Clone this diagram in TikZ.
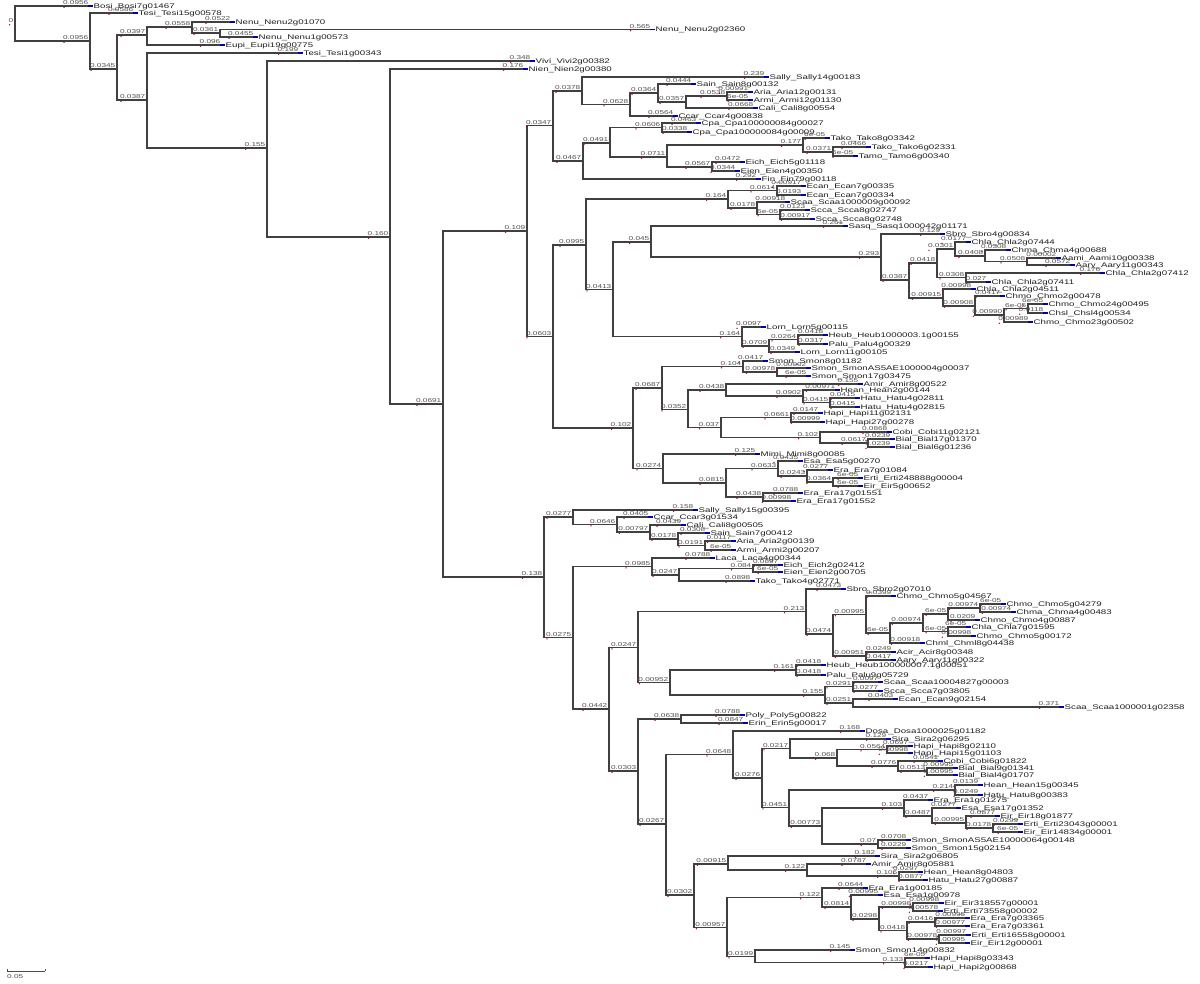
\documentclass[tikz,border=0pt]{standalone}
\usepackage{fontspec}
\newfontfamily\lff[FakeStretch=1.45]{Liberation Sans}
\tikzset{
 br/.style={draw=black!75, line width=1.15pt},
 bl/.style={anchor=base east, inner sep=0pt, xshift=-1.5pt, yshift=1.3pt, font=\lff\fontsize{5.7}{6}\selectfont, text=black!68},
 lf/.style={anchor=mid west, inner sep=0pt, xshift=3.5pt, font=\lff\fontsize{6.7}{7}\selectfont, text=black!88},
 rmk/.style={fill=red!75!black},
 bmk/.style={draw=blue!70!black, line width=1.4pt},
}
\newcommand\Br[5]{\coordinate (#2) at (#3,#4);\draw[br] (#1) |- (#2);\node[bl] (t) at (#2) {#5};\fill[rmk] ([xshift=1.2pt,yshift=-2.6pt]t.base west) circle (0.75pt);}
\newcommand\Lf[6]{\Br{#1}{#2}{#3}{#4}{#5}\draw[bmk] ([xshift=-2pt]#2) -- ++(5,0);\node[lf] at (#2) {#6};}
\begin{document}
\begin{tikzpicture}[x=1pt,y=-1pt]
\fill[white] (0,0) rectangle (1200,984);
\useasboundingbox (0,0) rectangle (1200,984);
\coordinate (r) at (15,23.5);
\node[bl] (t) at (r) {0};\fill[rmk] ([xshift=1.2pt,yshift=-2.6pt]t.base west) circle (0.75pt);
\Lf{r}{l1}{90}{6}{0.0956}{Bosi\_Bosi7g01467}
\Br{r}{n1}{90}{41}{0.0956}
\Lf{n1}{l2}{135}{13}{0.0586}{Tesi\_Tesi15g00578}
\Br{n1}{n2}{117}{69}{0.0345}
\Br{n2}{n3}{147}{35}{0.0397}
\Br{n3}{n4}{192}{27}{0.0558}
\Lf{n4}{l3}{232}{22}{0.0522}{Nenu\_Nenu2g01070}
\Br{n4}{n5}{220}{33}{0.0361}
\Lf{n5}{l4}{652}{29.5}{0.565}{Nenu\_Nenu2g02360}
\Lf{n5}{l5}{255}{37}{0.0455}{Nenu\_Nenu1g00573}
\Lf{n3}{l6}{222}{45}{0.096}{Eupi\_Eupi19g00775}
\Br{n2}{n6}{147}{100}{0.0387}
\Lf{n6}{l7}{300}{53}{0.199}{Tesi\_Tesi1g00343}
\Br{n6}{n7}{267}{148}{0.155}
\Lf{n7}{l8}{532}{61}{0.348}{Vivi\_Vivi2g00382}
\Br{n7}{n8}{390}{237}{0.160}
\Lf{n8}{l9}{525}{69}{0.176}{Nien\_Nien2g00380}
\Br{n8}{n9}{443}{404}{0.0691}
\Br{n9}{n10}{527}{231}{0.109}
\Br{n10}{n11}{553}{125.5}{0.0347}
\Br{n11}{n12}{582}{91}{0.0378}
\Lf{n12}{l10}{766}{77}{0.239}{Sally\_Sally14g00183}
\Br{n12}{n13}{630}{104.5}{0.0628}
\Br{n13}{n14}{658}{93}{0.0364}
\Lf{n14}{l11}{693}{84}{0.0444}{Sain\_Sain8g00132}
\Br{n14}{n15}{686}{102}{0.0357}
\Br{n15}{n16}{727}{96}{0.0538}
\Lf{n16}{l12}{750}{92}{0.00991}{Aria\_Aria12g00131}
\Lf{n16}{l13}{750}{100}{6e-05}{Armi\_Armi12g01130}
\Lf{n15}{l14}{755}{108}{0.0668}{Cali\_Cali8g00554}
\Lf{n13}{l15}{675}{116}{0.0564}{Ccar\_Ccar4g00838}
\Br{n11}{n17}{583}{161}{0.0467}
\Br{n17}{n19}{610}{143}{0.0491}
\Br{n19}{n20}{662}{127.5}{0.0606}
\Lf{n20}{l16}{698}{123}{0.0463}{Cpa\_Cpa100000084g00027}
\Lf{n20}{l17}{689}{132}{0.0338}{Cpa\_Cpa100000084g00009}
\Br{n19}{n21}{667}{157}{0.0711}
\Br{n21}{n22}{803}{145}{0.177}
\Lf{n22}{l18}{827}{138}{6e-05}{Tako\_Tako8g03342}
\Br{n22}{n24}{833}{152}{0.0371}
\Lf{n24}{l19}{868}{147}{0.0466}{Tako\_Tako6g02331}
\Lf{n24}{l20}{855}{156}{6e-05}{Tamo\_Tamo6g00340}
\Br{n21}{n23}{712}{167}{0.0567}
\Lf{n23}{l21}{742}{162}{0.0472}{Eich\_Eich5g01118}
\Lf{n23}{l22}{737}{171}{0.0344}{Eien\_Eien4g00350}
\Lf{n17}{l23}{758}{179}{0.292}{Fin\_Fin79g00118}
\Br{n10}{n18}{553}{336.5}{0.0603}
\Br{n18}{n25}{586}{245}{0.0995}
\Br{n25}{n27}{728}{199}{0.164}
\Br{n27}{n29}{777}{190.5}{0.0614}
\Lf{n29}{l24}{803}{186}{0.00917}{Ecan\_Ecan7g00335}
\Lf{n29}{l25}{803}{195}{0.0193}{Ecan\_Ecan7g00334}
\Br{n27}{n30}{757}{208}{0.0178}
\Lf{n30}{l26}{787}{202}{0.00918}{Scaa\_Scaa1000009g00092}
\Br{n30}{n31}{780}{214.5}{6e-05}
\Lf{n31}{l27}{807}{210}{0.0123}{Scca\_Scca8g02747}
\Lf{n31}{l28}{812}{219}{0.00917}{Scca\_Scca8g02748}
\Br{n25}{n28}{613}{289.5}{0.0413}
\Br{n28}{n32}{651}{242}{0.045}
\Lf{n32}{l29}{845}{226}{0.261}{Sasq\_Sasq1000042g01171}
\Br{n32}{n34}{881}{257}{0.293}
\Lf{n34}{l30}{942}{234}{0.129}{Sbro\_Sbro4g00834}
\Br{n34}{n35}{909}{280}{0.0387}
\Br{n35}{n36}{937}{263}{0.0418}
\Br{n36}{nA}{955}{249}{0.0301}
\Lf{nA}{l31}{968}{242}{0.0177}{Chla\_Chla2g07444}
\Br{nA}{nB}{985}{256}{0.0408}
\Lf{nB}{l32}{1008}{250}{0.0308}{Chma\_Chma4g00688}
\Br{nB}{nC}{1027}{261.5}{0.0508}
\Lf{nC}{l33}{1058}{258}{0.00002}{Aami\_Aami10g00338}
\Lf{nC}{l34}{1072}{265}{0.0572}{Aary\_Aary11g00343}
\Br{n36}{n38}{966}{277.5}{0.0308}
\Lf{n38}{l35}{1102}{273}{0.176}{Chla\_Chla2g07412}
\Lf{n38}{l36}{988}{282}{0.027}{Chla\_Chla2g07411}
\Br{n35}{n37}{943}{298}{0.00915}
\Lf{n37}{l37}{973}{289}{0.00998}{Chla\_Chla2g04511}
\Br{n37}{n39}{975}{306}{0.00908}
\Lf{n39}{l38}{1002}{296}{0.0417}{Chmo\_Chmo2g00478}
\Br{n39}{n40}{1004}{315}{0.00990}
\Br{n40}{n41}{1028}{308.5}{6e-05}
\Lf{n41}{l39}{1045}{304}{6e-05}{Chmo\_Chmo24g00495}
\Lf{n41}{l40}{1045}{313}{0.0118}{Chsl\_Chsl4g00534}
\Lf{n40}{l41}{1030}{322}{0.00989}{Chmo\_Chmo23g00502}
\Br{n28}{n33}{742}{336.5}{0.164}
\Lf{n33}{l42}{763}{327}{0.0097}{Lorn\_Lorn5g00115}
\Br{n33}{n42}{769}{346}{0.0709}
\Br{n42}{n43}{798}{339.5}{0.0264}
\Lf{n43}{l43}{825}{335}{0.0418}{Heub\_Heub1000003.1g00155}
\Lf{n43}{l44}{825}{344}{0.0317}{Palu\_Palu4g00329}
\Lf{n42}{l45}{797}{352}{0.0349}{Lorn\_Lorn11g00105}
\Br{n18}{n26}{633}{428}{0.102}
\Br{n26}{n44}{662}{388}{0.0687}
\Br{n44}{n46}{743}{366.5}{0.104}
\Lf{n46}{l46}{765}{361}{0.0417}{Smon\_Smon8g01182}
\Br{n46}{n48}{777}{372}{0.00978}
\Lf{n48}{l47}{808}{368}{0.00002}{Smon\_SmonAS5AE1000004g00037}
\Lf{n48}{l48}{808}{376}{6e-05}{Smon\_Smon17g03475}
\Br{n44}{n47}{688}{409.5}{0.0352}
\Br{n47}{n49}{726}{390}{0.0438}
\Lf{n49}{l49}{860}{384}{0.155}{Amir\_Amir8g00522}
\Br{n49}{n51}{803}{396}{0.0902}
\Lf{n51}{l50}{837}{390}{0.00971}{Hean\_Hean2g00144}
\Br{n51}{n52}{830}{402.5}{0.0415}
\Lf{n52}{l51}{857}{398}{0.0415}{Hatu\_Hatu4g02811}
\Lf{n52}{l52}{857}{407}{0.0415}{Hatu\_Hatu4g02815}
\Br{n47}{n50}{721}{427.5}{0.037}
\Br{n50}{n53}{791}{417.5}{0.0661}
\Lf{n53}{l53}{820}{413}{0.0147}{Hapi\_Hapi11g02131}
\Lf{n53}{l54}{822}{422}{0.00999}{Hapi\_Hapi27g00278}
\Br{n50}{n54}{820}{437.5}{0.102}
\Lf{n54}{l55}{889}{432}{0.0868}{Cobi\_Cobi11g02121}
\Br{n54}{n55}{868}{443}{0.0617}
\Lf{n55}{l56}{892}{439}{0.0239}{Bial\_Bial17g01370}
\Lf{n55}{l57}{892}{447}{0.0239}{Bial\_Bial6g01236}
\Br{n26}{n45}{663}{468.5}{0.0274}
\Lf{n45}{l58}{757}{454}{0.125}{Mimi\_Mimi8g00085}
\Br{n45}{n56}{726}{483}{0.0815}
\Br{n56}{n57}{778}{468.5}{0.0633}
\Lf{n57}{l59}{800}{461}{0.0435}{Esa\_Esa5g00270}
\Br{n57}{n59}{807}{476}{0.0243}
\Lf{n59}{l60}{830}{470}{0.0277}{Era\_Era7g01084}
\Br{n59}{n60}{833}{482}{0.0364}
\Lf{n60}{l61}{860}{478}{6e-05}{Erti\_Erti248888g00004}
\Lf{n60}{l62}{860}{486}{6e-05}{Eir\_Eir5g00652}
\Br{n56}{n58}{763}{497}{0.0438}
\Lf{n58}{l63}{800}{493}{0.0788}{Era\_Era17g01551}
\Lf{n58}{l64}{793}{501}{0.00998}{Era\_Era17g01552}
\Br{n9}{nL}{544}{577}{0.138}
\Br{nL}{n61}{573}{517}{0.0277}
\Lf{n61}{l65}{695}{510}{0.158}{Sally\_Sally15g00395}
\Br{n61}{n63}{617}{524.5}{0.0646}
\Lf{n63}{l66}{650}{517}{0.0405}{Ccar\_Ccar3g01534}
\Br{n63}{n64}{650}{532}{0.00797}
\Lf{n64}{l67}{683}{525}{0.0439}{Cali\_Cali8g00505}
\Br{n64}{n65}{678}{539}{0.0178}
\Lf{n65}{l68}{707}{533}{0.0308}{Sain\_Sain7g00412}
\Br{n65}{n66}{705}{545.5}{0.0191}
\Lf{n66}{l69}{733}{541}{0.0117}{Aria\_Aria2g00139}
\Lf{n66}{l70}{733}{550}{6e-05}{Armi\_Armi2g00207}
\Br{nL}{n62}{573}{637.5}{0.0275}
\Br{n62}{n67}{652}{566.5}{0.0985}
\Lf{n67}{l71}{712}{558}{0.0788}{Laca\_Laca4g00344}
\Br{n67}{n69}{679}{575}{0.0247}
\Br{n69}{n70}{753}{568.5}{0.084}
\Lf{n70}{l72}{780}{565}{0.0897}{Eich\_Eich2g02412}
\Lf{n70}{l73}{780}{572}{6e-05}{Eien\_Eien2g00705}
\Lf{n69}{l74}{752}{581}{0.0898}{Tako\_Tako4g02771}
\Br{n62}{n68}{609}{709}{0.0442}
\Br{n68}{n71}{638}{647.5}{0.0247}
\Br{n71}{n73}{806}{611.5}{0.213}
\Lf{n73}{l75}{843}{589}{0.0473}{Sbro\_Sbro2g07010}
\Br{n73}{n75}{833}{634}{0.0474}
\Br{n75}{n76}{866}{614.5}{0.00995}
\Lf{n76}{l76}{893}{596}{0.0399}{Chmo\_Chmo5g04567}
\Br{n76}{n78}{890}{633}{6e-05}
\Br{n78}{n79}{923}{623}{0.00974}
\Br{n79}{n80}{948}{614}{6e-05}
\Br{n80}{n82}{980}{608}{0.00974}
\Lf{n82}{l77}{1003}{604}{6e-05}{Chmo\_Chmo5g04279}
\Lf{n82}{l78}{1013}{612}{0.00974}{Chma\_Chma4g00483}
\Lf{n80}{l79}{977}{620}{0.0209}{Chmo\_Chmo4g00887}
\Br{n79}{n81}{948}{631.5}{6e-05}
\Lf{n81}{l80}{968}{627}{6e-05}{Chla\_Chla7g01595}
\Lf{n81}{l81}{973}{636}{0.00998}{Chmo\_Chmo5g00172}
\Lf{n78}{l82}{922}{643}{0.00918}{Chml\_Chml8g04438}
\Br{n75}{n77}{866}{656}{0.00951}
\Lf{n77}{l83}{893}{652}{0.0249}{Acir\_Acir8g00348}
\Lf{n77}{l84}{893}{660}{0.0417}{Aary\_Aary11g00322}
\Br{n71}{n74}{670}{682.5}{0.00952}
\Br{n74}{n83}{796}{670}{0.161}
\Lf{n83}{l85}{823}{665}{0.0418}{Heub\_Heub100000007.1g00051}
\Lf{n83}{l86}{823}{675}{0.0418}{Palu\_Palu9g05729}
\Br{n74}{n84}{825}{695}{0.155}
\Br{n84}{n85}{853}{686.5}{0.0291}
\Lf{n85}{l87}{880}{682}{0.0097}{Scaa\_Scaa10004827g00003}
\Lf{n85}{l88}{880}{691}{0.0277}{Scca\_Scca7g03805}
\Br{n84}{n86}{853}{703}{0.0251}
\Lf{n86}{l89}{895}{699}{0.0403}{Ecan\_Ecan9g02154}
\Lf{n86}{l90}{1061}{707}{0.371}{Scaa\_Scaa1000001g02358}
\Br{n68}{n72}{638}{771}{0.0303}
\Br{n72}{n87}{681}{719}{0.0638}
\Lf{n87}{l91}{742}{715}{0.0788}{Poly\_Poly5g00822}
\Lf{n87}{l92}{745}{723}{0.0847}{Erin\_Erin5g00017}
\Br{n72}{n88}{666}{824}{0.0267}
\Br{n88}{n89}{733}{754.5}{0.0648}
\Lf{n89}{l93}{862}{731}{0.168}{Dosa\_Dosa1000025g01182}
\Br{n89}{n91}{762}{778}{0.0276}
\Br{n91}{n92}{790}{748.5}{0.0217}
\Lf{n92}{l94}{888}{739}{0.129}{Sira\_Sira2g06295}
\Br{n92}{n94}{837}{758}{0.068}
\Br{n94}{n95}{887}{749.5}{0.0564}
\Lf{n95}{l95}{910}{746}{0.0697}{Hapi\_Hapi8g02110}
\Lf{n95}{l96}{910}{753}{0.00998}{Hapi\_Hapi15g01103}
\Br{n94}{n96}{898}{766}{0.0776}
\Lf{n96}{l97}{940}{761}{0.0541}{Cobi\_Cobi6g01822}
\Br{n96}{n97}{927}{771}{0.0513}
\Lf{n97}{l98}{955}{768}{0.00995}{Bial\_Bial9g01341}
\Lf{n97}{l99}{955}{775}{0.00995}{Bial\_Bial4g01707}
\Br{n91}{n93}{789}{807.5}{0.0451}
\Br{n93}{n98}{955}{790}{0.214}
\Lf{n98}{l100}{980}{785}{0.0139}{Hean\_Hean15g00345}
\Lf{n98}{l101}{980}{795}{0.0249}{Hatu\_Hatu8g00383}
\Br{n93}{n99}{822}{826}{0.00773}
\Br{n99}{n100}{904}{808}{0.103}
\Lf{n100}{l102}{930}{800}{0.0437}{Era\_Era1g01275}
\Br{n100}{n102}{932}{816}{0.0487}
\Lf{n102}{l103}{958}{808}{0.0277}{Esa\_Esa17g01352}
\Br{n102}{n103}{966}{823}{0.00995}
\Lf{n103}{l104}{997}{816}{0.0877}{Eir\_Eir18g01877}
\Br{n103}{n104}{993}{828}{0.0178}
\Lf{n104}{l105}{1020}{824}{0.0299}{Erti\_Erti23043g00001}
\Lf{n104}{l106}{1020}{832}{6e-05}{Eir\_Eir14834g00001}
\Br{n99}{n101}{878}{844}{0.07}
\Lf{n101}{l107}{908}{840}{0.0708}{Smon\_SmonAS5AE10000064g00148}
\Lf{n101}{l108}{908}{848}{0.0229}{Smon\_Smon15g02154}
\Br{n88}{n90}{694}{895}{0.0302}
\Br{n90}{n105}{728}{864}{0.00915}
\Lf{n105}{l109}{877}{856}{0.182}{Sira\_Sira2g06805}
\Br{n105}{n107}{807}{870}{0.122}
\Lf{n107}{l110}{868}{864}{0.0787}{Amir\_Amir8g05881}
\Br{n107}{n108}{899}{876}{0.106}
\Lf{n108}{l111}{920}{872}{0.0297}{Hean\_Hean8g04803}
\Lf{n108}{l112}{925}{880}{0.0877}{Hatu\_Hatu27g00887}
\Br{n90}{n106}{727}{927.5}{0.00957}
\Br{n106}{n109}{822}{897.5}{0.122}
\Lf{n109}{l113}{865}{888}{0.0644}{Era\_Era1g00185}
\Br{n109}{n111}{851}{907}{0.0814}
\Lf{n111}{l114}{880}{895}{0.00995}{Esa\_Esa1g00978}
\Br{n111}{n112}{879}{919}{0.0298}
\Br{n112}{n113}{913}{907}{0.00998}
\Lf{n113}{l115}{941}{903}{0.00998}{Eir\_Eir318557g00001}
\Lf{n113}{l116}{940}{911}{0.00578}{Erti\_Erti73558g00002}
\Br{n112}{n114}{907}{930.5}{0.0418}
\Br{n114}{n115}{935}{922}{0.0416}
\Lf{n115}{l117}{967}{918}{0.00995}{Era\_Era7g03365}
\Lf{n115}{l118}{967}{926}{0.00977}{Era\_Era7g03361}
\Br{n114}{n116}{939}{939}{0.00978}
\Lf{n116}{l119}{968}{935}{0.00997}{Erti\_Erti16558g00001}
\Lf{n116}{l120}{967}{943}{0.00995}{Eir\_Eir12g00001}
\Br{n106}{n110}{755}{956.5}{0.0199}
\Lf{n110}{l121}{852}{950}{0.145}{Smon\_Smon14g00832}
\Br{n110}{n117}{905}{962.5}{0.133}
\Lf{n117}{l122}{927}{958}{6e-05}{Hapi\_Hapi8g03343}
\Lf{n117}{l123}{930}{967}{0.0217}{Hapi\_Hapi2g00868}
% scale bar
\coordinate (s1) at (7,971);
\coordinate (s2) at (45,971);
\draw[black!70, line width=0.6pt] (s1) -- (s2);
\draw[black!70, line width=0.6pt] (s1) -- ++(0,-2);
\draw[black!70, line width=0.6pt] (s2) -- ++(0,-2);
\node[anchor=north west, inner sep=0pt, font=\lff\fontsize{5.7}{6}\selectfont, text=black!68] (sl) at ([yshift=-3pt]s1) {0.05};
\end{tikzpicture}
\end{document}
